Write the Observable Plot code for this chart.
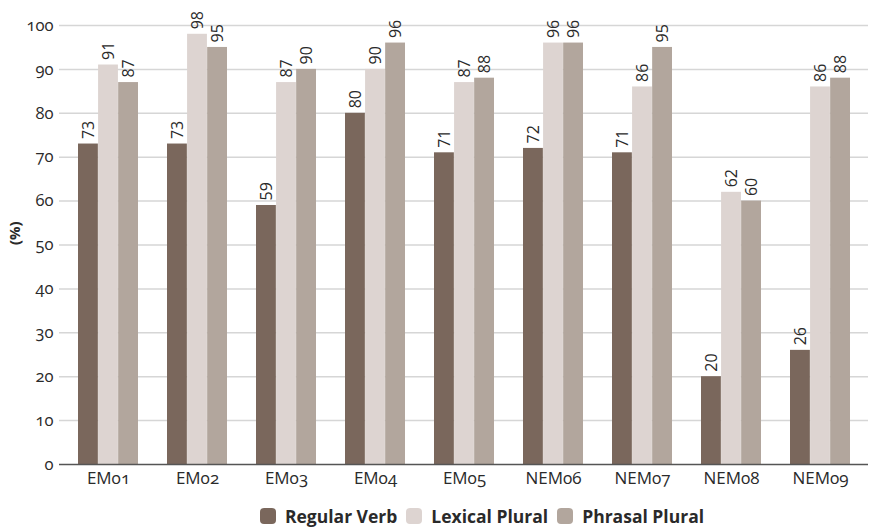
<!DOCTYPE html>
<html>
<head>
<meta charset="utf-8">
<script src="https://cdn.jsdelivr.net/npm/d3@7"></script>
<script src="https://cdn.jsdelivr.net/npm/@observablehq/plot@0.6"></script>
<style>
  body { margin: 0; background: #fff; font-family: "Open Sans", sans-serif; }
  #chart svg { display: block; }
  #legend { display: flex; justify-content: center; align-items: center; gap: 9px;
    font-family: "Open Sans", sans-serif; font-weight: 700; font-size: 17.5px; color: #2a2a2a;
    padding-left: 92px; margin-top: 4px; }
  #legend .item { display: flex; align-items: center; gap: 9px; }
  #legend .sw { width: 16px; height: 16px; border-radius: 4px; display: inline-block; }
</style>
</head>
<body>
<div id="chart"></div>
<div id="legend"></div>
<script>
const groups = ["EM01", "EM02", "EM03", "EM04", "EM05", "NEM06", "NEM07", "NEM08", "NEM09"];
const seriesNames = ["Regular Verb", "Lexical Plural", "Phrasal Plural"];
const regularVerb = [73, 73, 59, 80, 71, 72, 71, 20, 26];
const lexicalPlural = [91, 98, 87, 90, 87, 96, 86, 62, 86];
const phrasalPlural = [87, 95, 90, 96, 88, 96, 95, 60, 88];
const colors = ["#7a675c", "#ddd4d1", "#b2a69d"];
const yTicks = [0, 10, 20, 30, 40, 50, 60, 70, 80, 90, 100];
const yLabel = "(%)";

const seriesValues = [regularVerb, lexicalPlural, phrasalPlural];
const data = seriesValues.map((vals, s) => groups.map((g, i) => ({group: g, value: vals[i], series: seriesNames[s]})));

const W = 872;
const marginLeft = 59, marginRight = 4;
const padInner = 0.33, padOuter = 0.165;
const step = (W - marginLeft - marginRight) / (groups.length - padInner + 2 * padOuter);
const bw = step * (1 - padInner);
const barW = bw / 3;

const marks = [
  Plot.ruleY(yTicks.filter(d => d > 0), {stroke: "#d6d6d6", strokeWidth: 1.5}),
  Plot.text(yTicks, {y: d => d, text: d => String(d), frameAnchor: "left", textAnchor: "end", dx: -6,
    fontSize: 16.5, fontVariant: "oldstyle-nums", fill: "#2a2a2a"}),
  Plot.text([yLabel], {text: d => d, frameAnchor: "left", dx: -44, rotate: -90,
    fontSize: 15, fontWeight: 700, fill: "#2a2a2a"}),
];
data.forEach((d, s) => {
  marks.push(Plot.barY(d, {
    x: "group", y: "value", fill: colors[s],
    insetLeft: s * barW, insetRight: (2 - s) * barW
  }));
  marks.push(Plot.text(d, {
    x: "group", y: "value", text: d => String(d.value),
    rotate: -90, textAnchor: "start", lineAnchor: "middle",
    dx: (s - 1) * barW, dy: -5, fontSize: 16, fill: "#2a2a2a"
  }));
});
marks.push(Plot.ruleY([0], {stroke: "#555", strokeWidth: 1.5}));

const plot = Plot.plot({
  width: W,
  height: 500,
  marginLeft, marginRight,
  marginTop: 25,
  marginBottom: 36,
  style: {fontFamily: "Open Sans, sans-serif", fontSize: "16px", color: "#2a2a2a", background: "#fff"},
  x: {domain: groups, paddingInner: padInner, paddingOuter: padOuter, label: null, tickSize: 0, tickPadding: 7},
  y: {domain: [0, 100], axis: null},
  marks
});
const onum = "font-variant: normal; font-variant-numeric: oldstyle-nums; font-feature-settings: 'onum' 1;";
plot.querySelectorAll("text").forEach(t => {
  const holder = t.closest("[aria-label]");
  const lab = holder ? holder.getAttribute("aria-label") : "";
  if (/^x-axis/.test(lab) && /EM/.test(t.textContent)) {
    t.setAttribute("style", onum + " font-size: 17px;");
  }
});
document.getElementById("chart").appendChild(plot);

const legend = document.getElementById("legend");
seriesNames.forEach((n, i) => {
  const it = document.createElement("div");
  it.className = "item";
  const sw = document.createElement("span");
  sw.className = "sw"; sw.style.background = colors[i];
  const tx = document.createElement("span");
  tx.textContent = n;
  it.appendChild(sw); it.appendChild(tx);
  legend.appendChild(it);
});
</script>
</body>
</html>
